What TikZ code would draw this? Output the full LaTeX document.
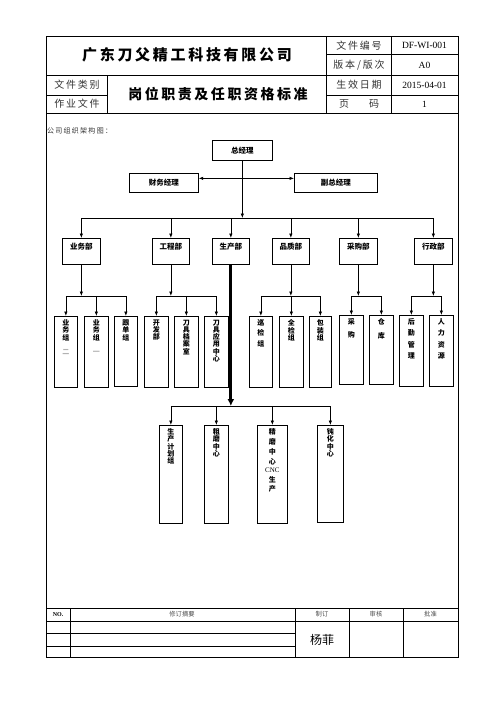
\documentclass[tikz,border=0pt]{standalone}
\usepackage{fontspec}
\setmainfont{Liberation Serif}
\newfontfamily\cjk{Noto Sans CJK SC}
\newfontfamily\cjkspread[LetterSpace=18]{Noto Sans CJK SC}
\usepackage{tikz}
\usetikzlibrary{
  arrows.meta,%
  positioning,%
  calc
}
\tikzset{>={Latex[length=4.5pt,width=3.5pt]}}
\tikzset{
  frame/.style={line width=0.9pt},
  rule/.style={line width=0.6pt},
  % boxes of the organisation chart
  box/.style={draw, line width=0.7pt, inner sep=0pt, anchor=north west},
  boxtxt/.style={font=\cjk\bfseries\fontsize{7.5}{8}\selectfont, inner sep=0pt},
  vtxt/.style={font=\cjk\bfseries\fontsize{7}{7.3}\selectfont, align=center, inner sep=0pt},
  headbox/.style={box, boxtxt},
  deptbox/.style={box, minimum width=37pt, minimum height=26pt,
    label={[boxtxt, anchor=north, yshift=-4.5pt]north:#1}},
  unitbox/.style={box, label={[vtxt, anchor=north, yshift=-3.5pt]north:#1}},
  link/.style={line width=0.7pt},
  arr/.style={link, ->},
  trunk/.style={line width=3.2pt, -{Latex[length=7pt,width=7pt]}},
  % header and footer texts
  hdtxt/.style={font=\cjkspread\fontsize{10}{12}\selectfont, text=black!80},
  hdval/.style={font=\fontsize{9.5}{11}\selectfont},
  ftxt/.style={font=\cjk\fontsize{6.3}{7}\selectfont, text=black!70},
}

\begin{document}
\begin{tikzpicture}[x=1pt, y=-1pt]
  \useasboundingbox (0,0) rectangle (496,702);%
  % form frame
  \draw[frame] (46,36) rectangle (458,657);%
  \draw[rule] (326,36) -- (326,113) (391,36) -- (391,113)%
    (326,54.5) -- (458,54.5) (46,75) -- (458,75)%
    (46,95) -- (107,95) (326,95) -- (458,95) (107,75) -- (107,113);%
  \draw[frame] (46,113) -- (458,113);%
  \draw[frame] (46,608) -- (458,608);%
  \draw[rule] (46,621) -- (458,621) (46,633) -- (295,633) (46,646) -- (295,646)%
    (70,608) -- (70,657) (295,608) -- (295,657) (349,608) -- (349,657) (403,608) -- (403,657);%

  % header
  \node[font=\cjkspread\bfseries\fontsize{15}{16}\selectfont] (company) at (187,55) {广东刀父精工科技有限公司};
  \node[font=\cjkspread\bfseries\fontsize{14}{15}\selectfont] (title) at (218,94) {岗位职责及任职资格标准};
  \node[hdtxt] (kind) at (77,85) {文件类别};
  \node[hdtxt] (work) at (77,104) {作业文件};
  \node[hdtxt] (docno) at (359,45.5) {文件编号};
  \node[hdtxt] (ver) at (359,65) {版本/版次};
  \node[hdtxt] (date) at (359,85) {生效日期};
  \node[hdtxt] (page) at (359,104) {页\hspace{20pt}码};
  \node[hdval] (docnoval) at (424.5,45.5) {DF-WI-001};
  \node[hdval] (verval) at (424.5,65) {A0};
  \node[hdval] (dateval) at (424.5,85) {2015-04-01};
  \node[hdval] (pageval) at (424.5,104) {1};
  \node[font=\cjkspread\fontsize{7}{8}\selectfont, text=black!80, anchor=west, inner sep=0pt] (caption) at (47,131) {公司组织架构图：};

  % top management
  \node[headbox, minimum width=60pt, minimum height=20pt] (zjl) at (212,140) {总经理};
  \node[headbox, minimum width=69pt, minimum height=19pt] (cwjl) at (129,173) {财务经理};
  \node[headbox, minimum width=83pt, minimum height=19pt] (fzjl) at (294,173) {副总经理};
  \draw[link, <->] ([yshift=4.5pt]cwjl.east) -- ([yshift=4.5pt]fzjl.west);%

  \coordinate (busA) at (0,218);%
  \coordinate (busB) at (0,296);%
  \coordinate (busC) at (0,406);%

  % departments
  \node[deptbox=业务部, minimum width=38pt] (ywb) at (62,238) {};
  \node[deptbox=工程部] (gcb) at (152,238) {};
  \node[deptbox=生产部] (scb) at (212,238) {};
  \node[deptbox=品质部] (pzb) at (272,238) {};
  \node[deptbox=采购部, minimum width=38pt] (cgb) at (339,238) {};
  \node[deptbox=行政部, minimum width=38pt] (xzb) at (414,238) {};

  \draw[arr] (zjl) -- (zjl.south |- busA);%
  \draw[link] (ywb.north |- busA) -- (xzb.north |- busA);%
  \foreach \d in {ywb,gcb,scb,pzb,cgb,xzb}
    \draw[arr] (\d.north |- busA) -- (\d.north);

  % groups
  \node[unitbox={业\\务\\组\\[7pt]{\color{black!30}二}}, minimum width=23pt, minimum height=71pt] (ywz2) at (54,316) {};
  \node[unitbox={业\\务\\组\\[7pt]{\color{black!30}一}}, minimum width=24pt, minimum height=71pt] (ywz1) at (84,316) {};
  \node[unitbox={跟\\单\\组}, minimum width=23pt, minimum height=70pt] (gdz) at (114,316) {};
  \node[unitbox={开\\发\\部}, minimum width=24pt, minimum height=71pt] (kfb) at (144,316) {};
  \node[unitbox={刀\\具\\档\\案\\室}, minimum width=24pt, minimum height=71pt] (dajs) at (174,316) {};
  \node[unitbox={刀\\具\\应\\用\\中\\心}, minimum width=24pt, minimum height=71pt] (yyzx) at (204,316) {};
  \node[unitbox={巡\\[3pt]检\\[3pt]组}, minimum width=23pt, minimum height=71pt] (xjz) at (249,316) {};
  \node[unitbox={全\\检\\组}, minimum width=24pt, minimum height=71pt] (qjz) at (279,316) {};
  \node[unitbox={包\\装\\组}, minimum width=22pt, minimum height=71pt] (bzz) at (309,316) {};
  \node[unitbox={采\\[6pt]购}, minimum width=24pt, minimum height=69pt] (cg) at (339,315) {};
  \node[unitbox={仓\\[6pt]库}, minimum width=24pt, minimum height=69pt] (ck) at (369,315) {};
  \node[unitbox={后\\[4pt]勤\\[4pt]管\\[4pt]理}, minimum width=24pt, minimum height=71pt] (hqgl) at (399,315) {};
  \node[unitbox={人\\[4pt]力\\[4pt]资\\[4pt]源}, minimum width=24pt, minimum height=71pt] (rlzy) at (429,315) {};

  \foreach \d/\a/\b in {ywb/ywz2/gdz, gcb/kfb/yyzx, pzb/xjz/bzz, cgb/cg/ck, xzb/hqgl/rlzy}{
    \draw[arr] (\d.south) -- (\d.south |- busB);
    \draw[link] (\a.north |- busB) -- (\b.north |- busB);
  }
  \foreach \s in {ywz2,ywz1,gdz,kfb,dajs,yyzx,xjz,qjz,bzz,cg,ck,hqgl,rlzy}
    \draw[arr] (\s.north |- busB) -- (\s.north);

  % production line
  \node[unitbox={生\\产\\计\\划\\组}, minimum width=23pt, minimum height=98pt] (jhz) at (159,425) {};
  \node[unitbox={粗\\磨\\中\\心}, minimum width=24pt, minimum height=98pt] (cmzx) at (204,425) {};
  \node[unitbox={精\\[2.5pt]磨\\[2.5pt]中\\[2.5pt]心\\[1pt]{\rmfamily\mdseries CNC}\\[2.5pt]生\\[2.5pt]产}, minimum width=30pt, minimum height=98pt] (jmzx) at (257,425) {};
  \node[unitbox={钝\\化\\中\\心}, minimum width=26pt, minimum height=97pt] (dhzx) at (317,425) {};

  \draw[trunk] (scb.south) -- (scb.south |- busC);%
  \draw[link] (jhz.north |- busC) -- (dhzx.north |- busC);%
  \foreach \s in {jhz,cmzx,jmzx,dhzx}
    \draw[arr] (\s.north |- busC) -- (\s.north);

  % revision table
  \node[font=\fontsize{6}{7}\selectfont\bfseries] (no) at (58,614.5) {NO.};
  \node[ftxt] (summary) at (182,614.5) {修订摘要};
  \node[ftxt] (make) at (322,614.5) {制订};
  \node[ftxt] (check) at (376,614.5) {审核};
  \node[ftxt] (approve) at (430.5,614.5) {批准};
  \node[font=\cjk\fontsize{12}{13}\selectfont] (maker) at (322,639.5) {杨菲};
\end{tikzpicture}
\end{document}
